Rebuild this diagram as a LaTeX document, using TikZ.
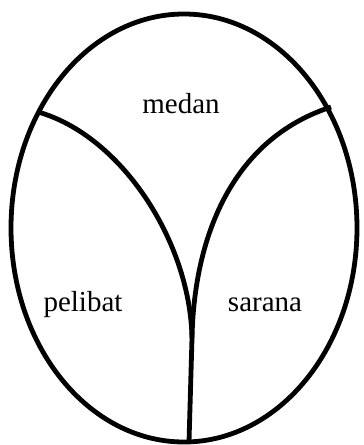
\documentclass[tikz,border=0pt]{standalone}
\usepackage{fontspec}
\setmainfont{Liberation Serif}
\usepackage{tikz}
\usetikzlibrary{positioning}
\tikzstyle{every node}=[font=\fontsize{14.5}{16}\selectfont]
\tikzstyle{rim}=[draw,line width=2.4pt]
\tikzstyle{vein}=[draw,line width=2.4pt]

\begin{document}
\begin{tikzpicture}[x=0.5pt,y=-0.5pt]
    \useasboundingbox (0,0) rectangle (364,445);
    \draw[rim] (184,228) ellipse [x radius=173, y radius=214];
    \coordinate (lstart) at (38,112);
    \coordinate (rstart) at (331,107);
    \coordinate (join) at (192,338);
    \coordinate (foot) at (189,442);
    \draw[vein] (lstart) .. controls (120,135) and (190,240) .. (join);
    \draw[vein] (rstart) .. controls (230,140) and (194,240) .. (join);
    \draw[vein] (join) -- (foot);
    \node (medan) at (181,104) {medan};
    \node (pelibat) at (83,305) {pelibat};
    \node (sarana) at (265,305) {sarana};
\end{tikzpicture}
\end{document}
